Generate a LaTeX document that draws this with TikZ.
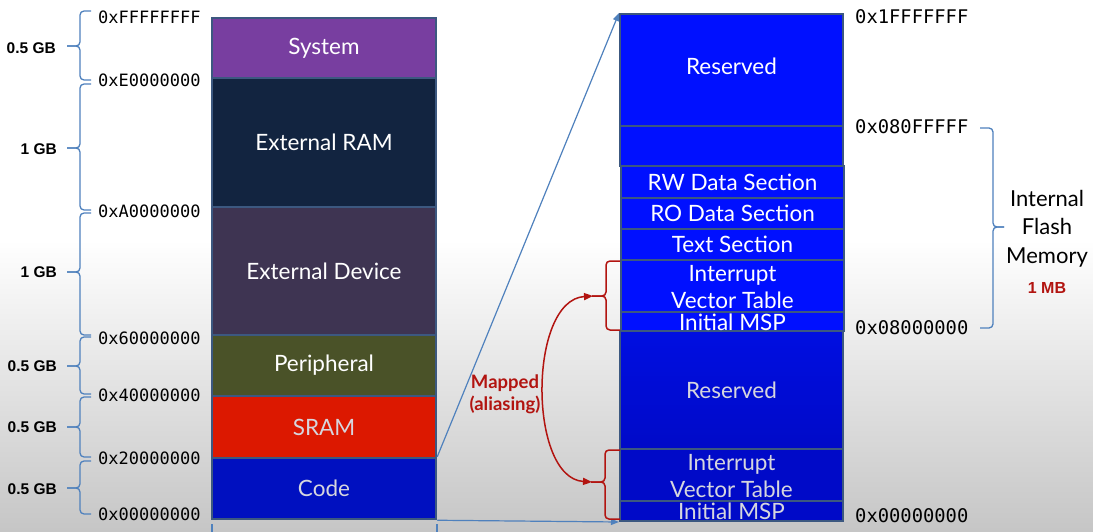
\documentclass[tikz,border=0pt]{standalone}
\usepackage{fontspec}
\setmainfont{Lato}
\newfontfamily\monof{DejaVu Sans Mono}
\newfontfamily\arialf{Liberation Sans}
\usetikzlibrary{arrows.meta}
\definecolor{bord}{RGB}{60,88,128}
\definecolor{bracec}{RGB}{79,129,189}
\definecolor{sysc}{RGB}{120,62,160}
\definecolor{eramc}{RGB}{18,36,64}
\definecolor{edevc}{RGB}{62,52,82}
\definecolor{peric}{RGB}{74,82,40}
\definecolor{sramc}{RGB}{220,24,0}
\definecolor{codec}{RGB}{0,16,192}
\definecolor{bbA}{RGB}{0,16,255}
\definecolor{bbB}{RGB}{0,14,225}
\definecolor{bbC}{RGB}{0,10,200}
\definecolor{mred}{RGB}{178,20,16}
\definecolor{lgray}{RGB}{214,214,222}
\tikzset{
  lbox/.style={draw=bord, line width=2.5pt, minimum width=224pt, inner sep=0pt, text=white,
     font=\fontsize{22.5}{26}\selectfont},
  rbox/.style={draw=bord, line width=2pt, minimum width=223pt, inner sep=0pt, fill=bbA},
  rtxt/.style={inner sep=0pt, text=white, align=center, font=\fontsize{22.5}{27}\selectfont},
  addr/.style={anchor=west, inner sep=0pt, font=\monof\fontsize{17}{19}\selectfont},
  raddr/.style={anchor=west, inner sep=0pt, font=\monof\fontsize{18.8}{21}\selectfont},
  gb/.style={anchor=east, inner sep=0pt, font=\arialf\bfseries\fontsize{15.5}{17}\selectfont},
  bluebrace/.style={draw=bracec, line width=1.3pt, rounded corners=4pt},
  redbrace/.style={draw=mred, line width=1.5pt, rounded corners=4pt},
  zoomline/.style={draw=bracec, line width=1.2pt, -{Triangle[length=8pt,width=6pt]}},
}
\begin{document}
\begin{tikzpicture}[x=1pt,y=-1pt]
\useasboundingbox (0,0) rectangle (1093,532);
\fill[white] (0,0) rectangle (1093,532);
\shade[top color=white, bottom color=gray!45] (0,240) rectangle (1093,532);

% left column
\node[lbox, fill=sysc,  minimum height=60pt]  (sys)  at (324,48)    {System};
\node[lbox, fill=eramc, minimum height=129pt] (eram) at (324,142.5) {External RAM};
\node[lbox, fill=edevc, minimum height=128pt] (edev) at (324,271)   {External Device};
\node[lbox, fill=peric, minimum height=61pt]  (peri) at (324,365.5) {Peripheral};
\node[lbox, fill=sramc, minimum height=62pt, text=lgray] (sram) at (324,427) {SRAM};
\node[lbox, fill=codec, minimum height=61pt, text=lgray] (code) at (324,488.5) {Code};

% ticks under left column
\coordinate (tk1) at (212,524); \coordinate (tk1b) at (212,532);
\coordinate (tk2) at (437,524); \coordinate (tk2b) at (437,532);
\draw[bracec, line width=1.2pt] (tk1) -- (tk1b) (tk2) -- (tk2b);

% left addresses
\node[addr] (aF) at (98,17)  {0xFFFFFFFF};
\node[addr] (aE) at (98,80)  {0xE0000000};
\node[addr] (aA) at (98,211) {0xA0000000};
\node[addr] (a6) at (98,338) {0x60000000};
\node[addr] (a4) at (98,395) {0x40000000};
\node[addr] (a2) at (98,458) {0x20000000};
\node[addr] (a0) at (98,514) {0x00000000};

% left braces and sizes
\draw[bluebrace] (91,11) -- (80,11) -- (80,46) -- (67,46);
\draw[bluebrace] (67,46) -- (80,46) -- (80,80) -- (91,80);
\draw[bluebrace] (91,84) -- (80,84) -- (80,148) -- (67,148);
\draw[bluebrace] (67,148) -- (80,148) -- (80,210) -- (91,210);
\draw[bluebrace] (91,213) -- (80,213) -- (80,272) -- (67,272);
\draw[bluebrace] (67,272) -- (80,272) -- (80,335) -- (91,335);
\draw[bluebrace] (91,337) -- (80,337) -- (80,366) -- (67,366);
\draw[bluebrace] (67,366) -- (80,366) -- (80,394) -- (91,394);
\draw[bluebrace] (91,397) -- (80,397) -- (80,427) -- (67,427);
\draw[bluebrace] (67,427) -- (80,427) -- (80,457) -- (91,457);
\draw[bluebrace] (91,461) -- (80,461) -- (80,488) -- (67,488);
\draw[bluebrace] (67,488) -- (80,488) -- (80,514) -- (91,514);

\node[gb] (g1) at (56,48)  {0.5 GB};
\node[gb] (g2) at (57,149) {1 GB};
\node[gb] (g3) at (57,272) {1 GB};
\node[gb] (g4) at (57,366) {0.5 GB};
\node[gb] (g5) at (57,427) {0.5 GB};
\node[gb] (g6) at (57,489) {0.5 GB};

% right column boxes
\node[rbox, minimum height=112pt] (rtop) at (731.5,70) {};
\node[rbox, minimum height=40pt]  (rblank) at (731.5,146) {};
\node[rbox, minimum height=32pt]  (rw) at (732.5,182) {};
\node[rbox, minimum height=31pt]  (ro) at (732.5,213.5) {};
\node[rbox, minimum height=31pt]  (txt) at (732.5,244.5) {};
\node[rbox, minimum height=52pt]  (ivt1) at (732.5,286) {};
\node[rbox, minimum height=19pt]  (msp1) at (732.5,321.5) {};
\node[rbox, minimum height=118pt, top color=bbB, bottom color=bbC] (rres) at (731.5,390) {};
\node[rbox, minimum height=52pt, fill=bbC] (ivt0) at (731.5,475) {};
\node[rbox, minimum height=20pt, fill=bbC] (msp0) at (731.5,511) {};

% right column texts
\node[rtxt] at (rtop.center) [yshift=4pt] {Reserved};
\node[rtxt] at (rw.center) {RW Data Section};
\node[rtxt] at (ro.center) {RO Data Section};
\node[rtxt] at (txt.center) {Text Section};
\node[rtxt] at (732.5,287.5) {Interrupt\\Vector Table};
\node[rtxt] at (msp1.center) [yshift=-1pt] {Initial MSP};
\node[rtxt, text=lgray] at (rres.center) {Reserved};
\node[rtxt, text=lgray] at (731.5,476.5) {Interrupt\\Vector Table};
\node[rtxt, text=lgray] at (msp0.center) {Initial MSP};

% right addresses
\node[raddr] (r1) at (855,17)  {0x1FFFFFFF};
\node[raddr] (r2) at (855,127) {0x080FFFFF};
\node[raddr] (r3) at (855,328) {0x08000000};
\node[raddr] (r4) at (855,516) {0x00000000};

% right brace
\draw[bluebrace] (980,128) -- (993,128) -- (993,227) -- (1004,227);
\draw[bluebrace] (1004,227) -- (993,227) -- (993,328) -- (980,328);
\node[align=center, inner sep=0pt, font=\fontsize{22}{28.5}\selectfont] (ifm) at (1047,228.5) {Internal\\Flash\\Memory};
\node[inner sep=0pt, text=mred, font=\arialf\bfseries\fontsize{16}{18}\selectfont] (mb) at (1047,288) {1 MB};

% zoom lines
\draw[zoomline] (code.north east) -- (rtop.north west);
\draw[zoomline] (code.south east) -- (msp0.south west);

% red braces
\draw[redbrace] (620,261) -- (606,261) -- (606,296) -- (592,296);
\draw[redbrace] (592,296) -- (606,296) -- (606,330) -- (620,330);
\draw[redbrace] (620,450) -- (605,450) -- (605,482) -- (591,482);
\draw[redbrace] (591,482) -- (605,482) -- (605,519) -- (620,519);
\coordinate (tipA) at (593,296);
\coordinate (tipB) at (592,482);
\draw[mred, line width=1.5pt, {Triangle[length=9pt,width=7pt]}-{Triangle[length=9pt,width=7pt]}]
  (tipA) .. controls (528,300) and (528,478) .. (tipB);
\node[align=center, inner sep=0pt, text=mred, font=\bfseries\fontsize{18.5}{22}\selectfont] (map) at (505,394) {Mapped\\(aliasing)};
\end{tikzpicture}
\end{document}
